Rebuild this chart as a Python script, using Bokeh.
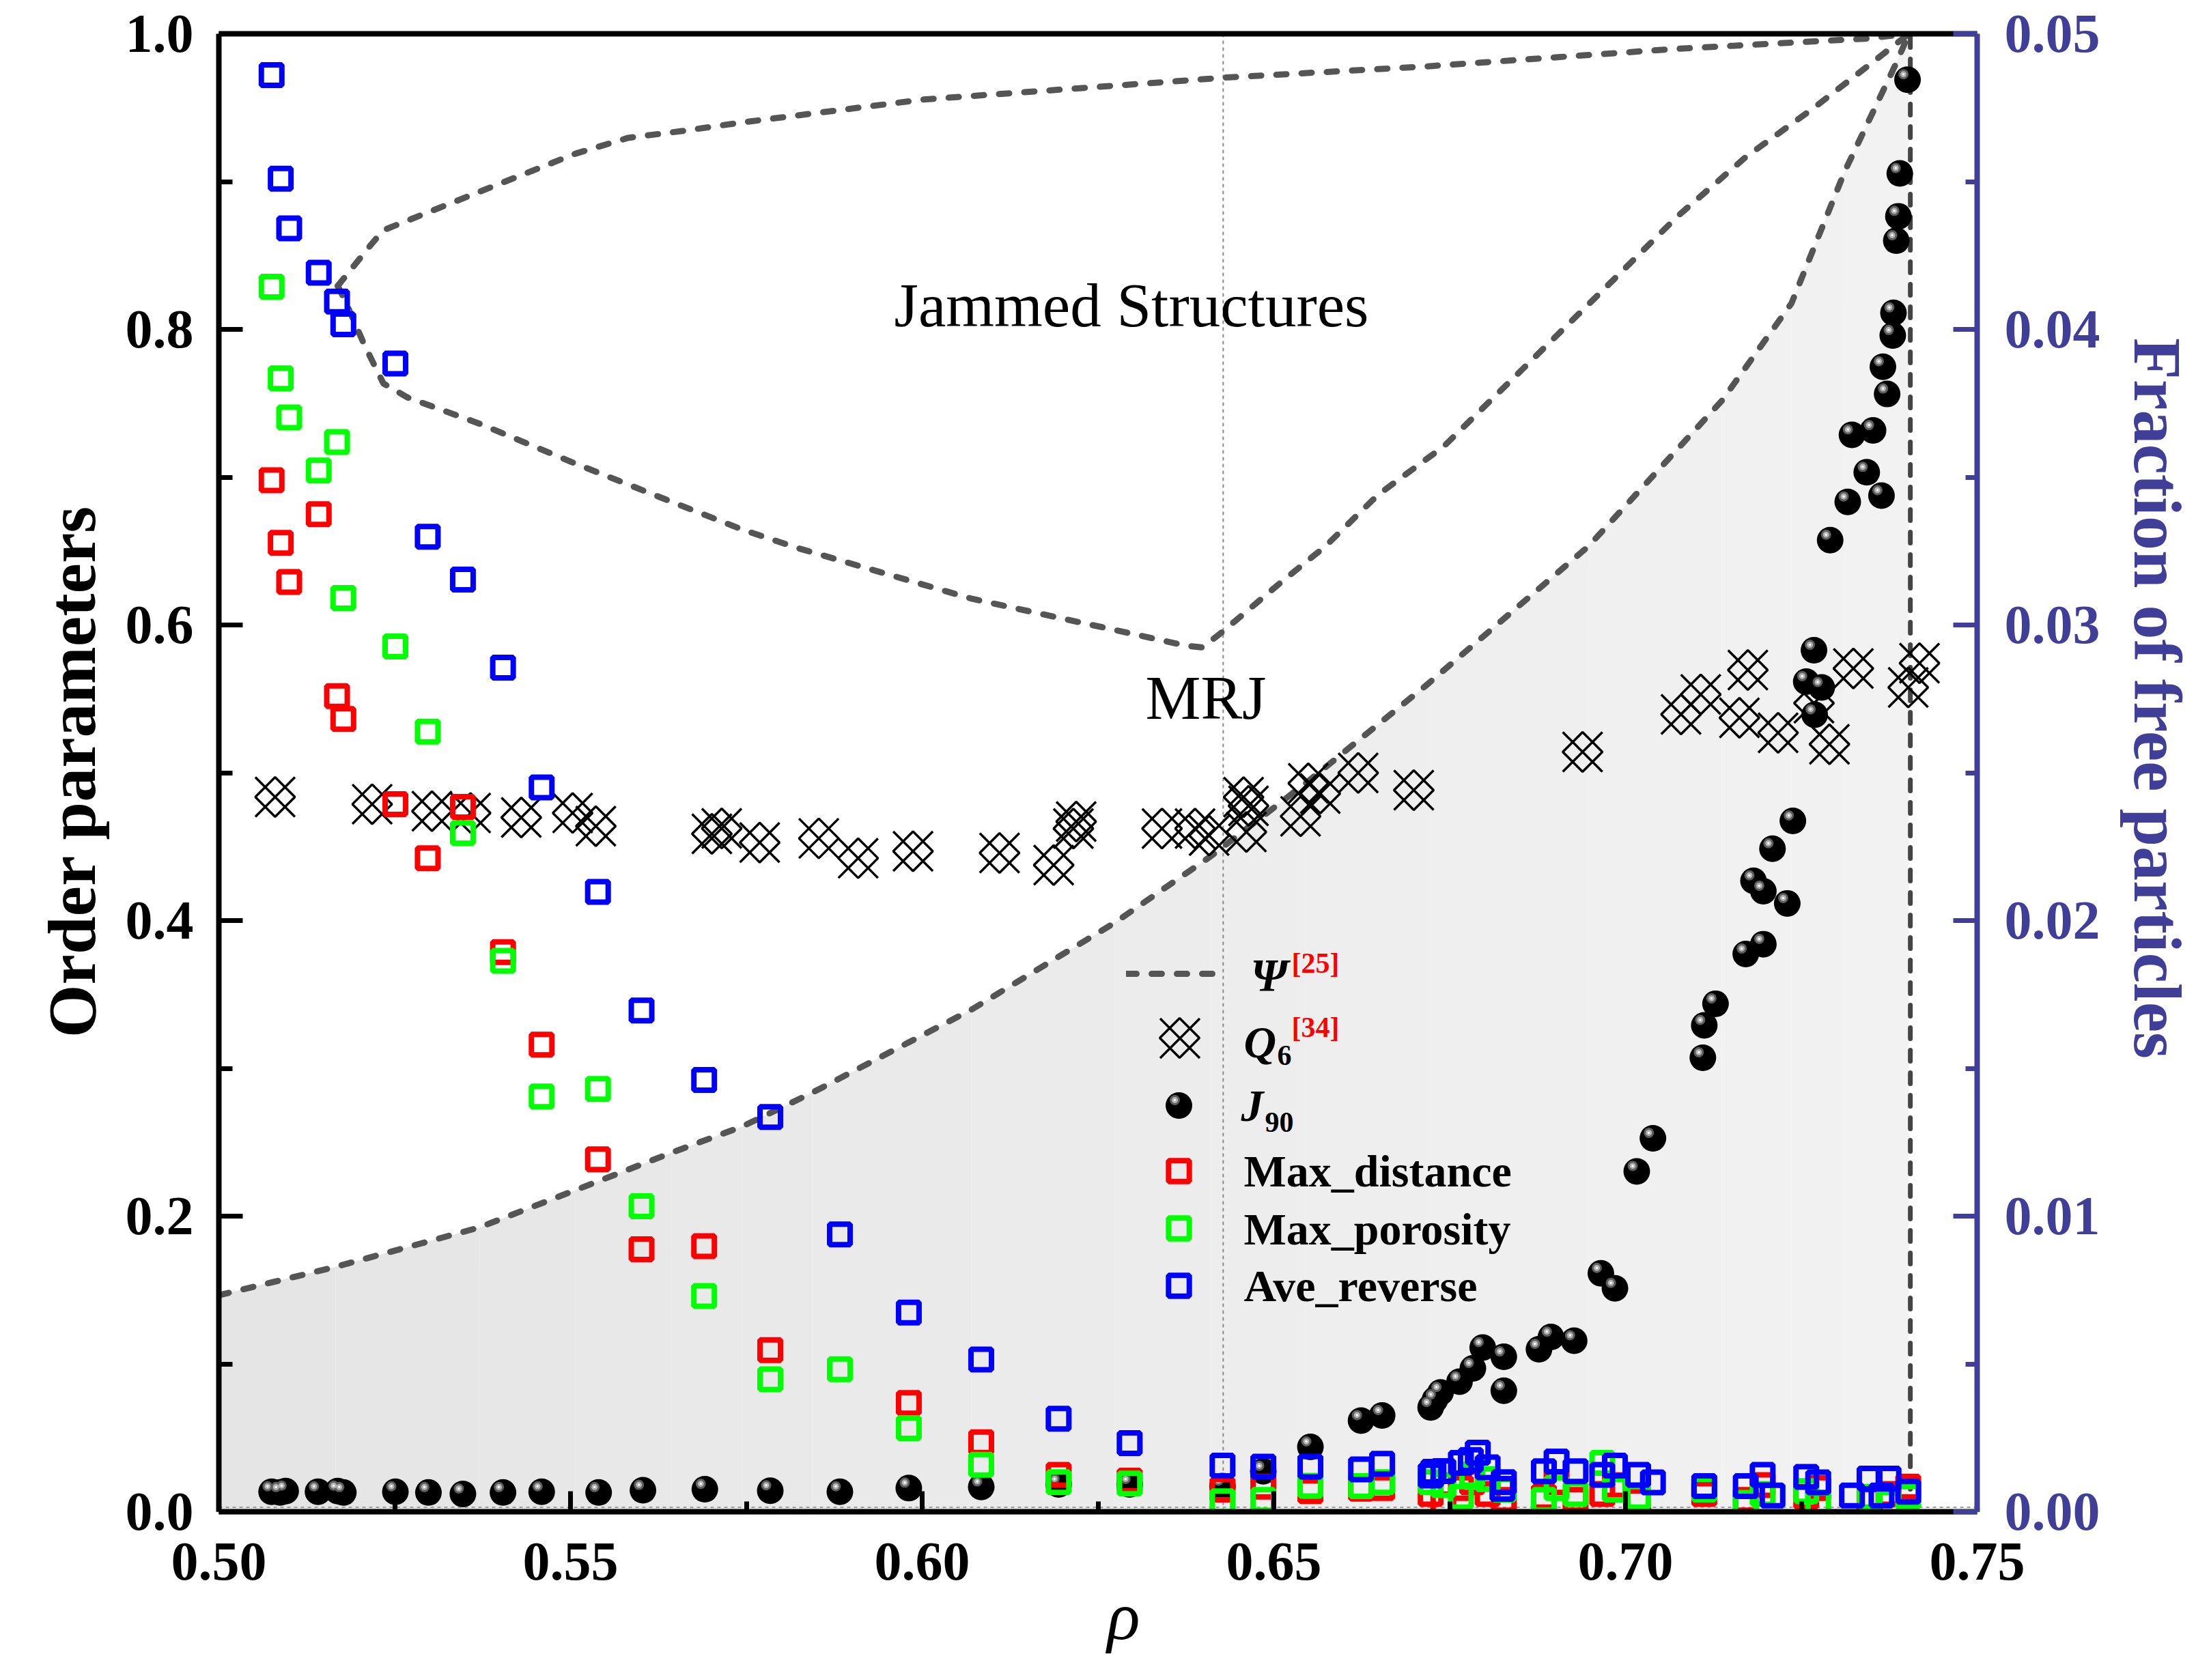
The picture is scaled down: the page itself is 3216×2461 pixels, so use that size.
import math
from bokeh.plotting import figure
from bokeh.layouts import row
from bokeh.models import (Range1d, LinearAxis, Label, Legend, LegendItem, Div,
                          FixedTicker, PrintfTickFormatter, ColumnDataSource)
from bokeh.transform import dodge
from bokeh.embed import file_html
from bokeh.resources import INLINE

# ------------------------------------------------------------------ data
# Psi boundary curves
up_rho = [0.5169, 0.5217, 0.5234, 0.5370, 0.5507, 0.5582, 0.5660, 0.5745, 0.6001,
          0.6341, 0.6428, 0.6716, 0.7069, 0.7341, 0.7403]
up_psi = [0.8294, 0.8577, 0.8671, 0.8930, 0.9189, 0.9296, 0.9343, 0.9401, 0.9555,
          0.9672, 0.9703, 0.9779, 0.9897, 0.9967, 1.0]

mid_rho = [0.5169, 0.5179, 0.5207, 0.5234, 0.5268, 0.5370, 0.5507, 0.5644, 0.5745,
           0.5824, 0.6070, 0.6274, 0.6375, 0.6399, 0.6430, 0.6512, 0.6573, 0.6648,
           0.6742, 0.6853, 0.6964, 0.7074, 0.7171, 0.7267, 0.7350, 0.7403]
mid_psi = [0.8294, 0.8200, 0.7894, 0.7634, 0.7540, 0.7363, 0.7092, 0.6833, 0.6644,
           0.6519, 0.6178, 0.5966, 0.5860, 0.5848, 0.5966, 0.6296, 0.6531, 0.6880,
           0.7210, 0.7728, 0.8247, 0.8765, 0.9166, 0.9496, 0.9802, 1.0]

lo_rho = [0.5000, 0.5166, 0.5370, 0.5507, 0.5644, 0.5745, 0.5844, 0.6070, 0.6274,
          0.6410, 0.6545, 0.6716, 0.6947, 0.7137, 0.7236, 0.7312, 0.7385, 0.7403]
lo_psi = [0.1465, 0.1657, 0.1923, 0.2176, 0.2430, 0.2608, 0.2836, 0.3397, 0.3986,
          0.4434, 0.4928, 0.5589, 0.6531, 0.7517, 0.8176, 0.9072, 0.9802, 1.0]

RHO_MRJ = 0.6428      # dotted reference line
RHO_CP = 0.7405       # close packing (dashed vertical)
BASE_LEVEL = 0.003    # dotted baseline

# Q6
q_rho = [0.5080, 0.5218, 0.5303, 0.5358, 0.5430, 0.5503, 0.5536, 0.5701, 0.5715,
         0.5769, 0.5853, 0.5909, 0.5987, 0.6110, 0.6187, 0.6219, 0.6215, 0.6341,
         0.6388, 0.6408, 0.6457, 0.6464, 0.6461, 0.6549, 0.6538, 0.6566, 0.6620,
         0.6699, 0.6939, 0.7079, 0.7107, 0.7174, 0.7162, 0.7217, 0.7324, 0.7268,
         0.7290, 0.7418, 0.7402]
q6 = [0.4836, 0.4787, 0.4740, 0.4728, 0.4697, 0.4728, 0.4639, 0.4587, 0.4624,
      0.4528, 0.4556, 0.4422, 0.4469, 0.4457, 0.4375, 0.4670, 0.4622, 0.4622,
      0.4622, 0.4575, 0.4835, 0.4776, 0.4599, 0.4928, 0.4705, 0.4859, 0.4999,
      0.4882, 0.5141, 0.5395, 0.5530, 0.5695, 0.5372, 0.5270, 0.5706, 0.5471,
      0.5193, 0.5741, 0.5577]

# J90
j_rho = [0.5075, 0.5087, 0.5095, 0.5141, 0.5169, 0.5177, 0.5251, 0.5298, 0.5347,
         0.5404, 0.5459, 0.5540, 0.5603, 0.5691, 0.5784, 0.5883, 0.5981, 0.6084,
         0.6194, 0.6295, 0.6427, 0.6485, 0.6552, 0.6624, 0.6654, 0.6723, 0.6729,
         0.6737, 0.6764, 0.6783, 0.6797, 0.6827, 0.6827, 0.6877, 0.6894, 0.6927,
         0.6965, 0.6985, 0.7016, 0.7039, 0.7110, 0.7112, 0.7128, 0.7171, 0.7196,
         0.7182, 0.7196, 0.7209, 0.7230, 0.7238, 0.7268, 0.7257, 0.7279, 0.7269,
         0.7291, 0.7316, 0.7322, 0.7343, 0.7352, 0.7364, 0.7366, 0.7372, 0.7380,
         0.7381, 0.7385, 0.7388, 0.7390, 0.7401]
j90 = [0.0135, 0.0130, 0.0140, 0.0135, 0.0140, 0.0130, 0.0135, 0.0130, 0.0120,
       0.0130, 0.0135, 0.0130, 0.0145, 0.0152, 0.0142, 0.0135, 0.0160, 0.0168,
       0.0185, 0.0185, 0.0173, 0.0274, 0.0439, 0.0617, 0.0651, 0.0706, 0.0757,
       0.0807, 0.0880, 0.0970, 0.1111, 0.1048, 0.0819, 0.1099, 0.1182, 0.1157,
       0.1613, 0.1512, 0.2303, 0.2527, 0.3072, 0.3291, 0.3437, 0.3774, 0.3840,
       0.4269, 0.4199, 0.4486, 0.4116, 0.4674, 0.5829, 0.5617, 0.5577, 0.5393,
       0.6574, 0.6833, 0.7286, 0.7033, 0.7316, 0.6875, 0.7747, 0.7563, 0.7959,
       0.8112, 0.8600, 0.8765, 0.9055, 0.9689]

# Max_distance
red_rho = [0.5075, 0.5088, 0.5100, 0.5142, 0.5168, 0.5177, 0.5251, 0.5297, 0.5347,
           0.5404, 0.5459, 0.5539, 0.5601, 0.5690, 0.5784, 0.5981, 0.6084, 0.6194,
           0.6295, 0.6427, 0.6485, 0.6552, 0.6624, 0.6654, 0.6723, 0.6741, 0.6766,
           0.6782, 0.6804, 0.6827, 0.6884, 0.6902, 0.6929, 0.6967, 0.6985, 0.7018,
           0.7112, 0.7171, 0.7195, 0.7257, 0.7274, 0.7347, 0.7374, 0.7402]
max_distance = [0.6979, 0.6555, 0.6291, 0.6750, 0.5518, 0.5364, 0.4787, 0.4422, 0.4769,
                0.3786, 0.3161, 0.2385, 0.1776, 0.1797, 0.1093, 0.0736, 0.0470, 0.0250,
                0.0210, 0.0150, 0.0170, 0.0140, 0.0156, 0.0160, 0.0120, 0.0050, 0.0160,
                0.0200, 0.0120, 0.0080, 0.0100, 0.0200, 0.0080, 0.0120, 0.0180, 0.0070,
                0.0120, 0.0080, 0.0180, 0.0100, 0.0160, 0.0080, 0.0120, 0.0170]

# Max_porosity
green_rho = [0.5075, 0.5088, 0.5100, 0.5142, 0.5168, 0.5177, 0.5251, 0.5297, 0.5347,
             0.5404, 0.5459, 0.5539, 0.5601, 0.5690, 0.5784, 0.5883, 0.5981, 0.6084,
             0.6194, 0.6295, 0.6427, 0.6485, 0.6552, 0.6624, 0.6654, 0.6723, 0.6741,
             0.6766, 0.6782, 0.6804, 0.6827, 0.6884, 0.6902, 0.6929, 0.6967, 0.6985,
             0.7018, 0.7112, 0.7171, 0.7195, 0.7257, 0.7274, 0.7347, 0.7374, 0.7402]
max_porosity = [0.8289, 0.7669, 0.7404, 0.7045, 0.7238, 0.6182, 0.5855, 0.5278, 0.4592,
                0.3727, 0.2810, 0.2860, 0.2067, 0.1460, 0.0896, 0.0964, 0.0566, 0.0317,
                0.0200, 0.0190, 0.0070, 0.0080, 0.0175, 0.0173, 0.0200, 0.0200, 0.0180,
                0.0100, 0.0250, 0.0220, 0.0150, 0.0080, 0.0160, 0.0120, 0.0330, 0.0150,
                0.0100, 0.0150, 0.0060, 0.0120, 0.0140, 0.0060, 0.0100, 0.0060, 0.0100]

# Ave_reverse
blue_rho = [0.5075, 0.5088, 0.5100, 0.5142, 0.5168, 0.5177, 0.5251, 0.5297, 0.5347,
            0.5404, 0.5459, 0.5539, 0.5601, 0.5690, 0.5784, 0.5883, 0.5981, 0.6084,
            0.6194, 0.6295, 0.6427, 0.6485, 0.6552, 0.6624, 0.6654, 0.6723, 0.6727,
            0.6741, 0.6766, 0.6780, 0.6790, 0.6804, 0.6825, 0.6827, 0.6884, 0.6902,
            0.6929, 0.6967, 0.6985, 0.7018, 0.7039, 0.7112, 0.7171, 0.7195, 0.7209,
            0.7257, 0.7274, 0.7322, 0.7347, 0.7364, 0.7374, 0.7402]
ave_reverse = [0.9720, 0.9020, 0.8684, 0.8383, 0.8188, 0.8035, 0.7769, 0.6597, 0.6307,
               0.5711, 0.4901, 0.4194, 0.3392, 0.2921, 0.2671, 0.1877, 0.1347, 0.1030,
               0.0629, 0.0464, 0.0312, 0.0305, 0.0305, 0.0286, 0.0325, 0.0245, 0.0270,
               0.0275, 0.0330, 0.0350, 0.0400, 0.0300, 0.0155, 0.0200, 0.0274, 0.0340,
               0.0274, 0.0250, 0.0312, 0.0250, 0.0199, 0.0173, 0.0173, 0.0249, 0.0110,
               0.0236, 0.0199, 0.0110, 0.0224, 0.0110, 0.0224, 0.0135]

x_ticks = [0.50, 0.55, 0.60, 0.65, 0.70, 0.75]
x_minor = [0.525, 0.575, 0.625, 0.675, 0.725]
y_ticks = [0.0, 0.2, 0.4, 0.6, 0.8, 1.0]
y_minor = [0.1, 0.3, 0.5, 0.7, 0.9]
r_ticks = [0.00, 0.01, 0.02, 0.03, 0.04, 0.05]
r_minor = [0.005, 0.015, 0.025, 0.035, 0.045]

# ------------------------------------------------------------------ layout geometry (page pixels)
PX_L, PX_R, PX_T, PX_B = 320, 2895, 49, 2214   # plot frame edges
TOTAL_W, TOTAL_H = 3200, 2445
LEFT_W, RIGHT_W = 170, 118                     # side strips holding the vertical titles

def sx(px):
    return px - PX_L
def sy(py):
    return PX_B - py
def dx(px):
    return 0.5 + (px - PX_L) / (PX_R - PX_L) * 0.25
def dy(py):
    return (PX_B - py) / (PX_B - PX_T)

NAVY = "#3f3f9a"
DASH_C = "#555555"
FONT = "Liberation Serif"

p = figure(frame_width=PX_R - PX_L, frame_height=PX_B - PX_T,
           min_border_left=PX_L - LEFT_W, min_border_right=(TOTAL_W - RIGHT_W) - PX_R,
           min_border_top=PX_T, min_border_bottom=TOTAL_H - PX_B,
           x_range=Range1d(0.5, 0.75), y_range=Range1d(0.0, 1.0),
           output_backend="svg", toolbar_location=None)
p.extra_y_ranges = {"frac": Range1d(0.0, 0.05)}
p.grid.visible = False
p.outline_line_color = None
p.background_fill_color = "white"

def style_axis(ax, color, tick_in, minor_in, standoff):
    ax.axis_line_width = 8
    ax.axis_line_color = color
    ax.major_tick_line_width = 7
    ax.minor_tick_line_width = 7
    ax.major_tick_line_color = color
    ax.minor_tick_line_color = color
    ax.major_tick_in = tick_in
    ax.major_tick_out = 0
    ax.minor_tick_in = minor_in
    ax.minor_tick_out = 0
    ax.major_label_text_font = FONT
    ax.major_label_text_font_style = "bold"
    ax.major_label_text_font_size = "80px"
    ax.major_label_text_color = color
    ax.major_label_standoff = standoff

xa = p.xaxis[0]
xa.ticker = FixedTicker(ticks=x_ticks, minor_ticks=x_minor)
xa.formatter = PrintfTickFormatter(format="%.2f")
style_axis(xa, "black", 30, 15, 46)
xa.axis_label = "\u00a0\u00a0\u00a0\u03c1"
xa.axis_label_text_font = FONT
xa.axis_label_text_font_style = "italic"
xa.axis_label_text_font_size = "100px"
xa.axis_label_text_color = "black"
xa.axis_label_standoff = -5

ya = p.yaxis[0]
ya.ticker = FixedTicker(ticks=y_ticks, minor_ticks=y_minor)
ya.formatter = PrintfTickFormatter(format="%.1f")
style_axis(ya, "black", 35, 20, 37)

ra = LinearAxis(y_range_name="frac")
ra.ticker = FixedTicker(ticks=r_ticks, minor_ticks=r_minor)
ra.formatter = PrintfTickFormatter(format="%.2f")
style_axis(ra, NAVY, 35, 17, 40)
p.add_layout(ra, "right")

ta = LinearAxis(ticker=FixedTicker(ticks=[]))
ta.axis_line_width = 8
ta.axis_line_color = "black"
ta.major_tick_in = 0
ta.major_tick_out = 0
ta.minor_tick_in = 0
ta.minor_tick_out = 0
ta.major_label_text_font_size = "0px"
p.add_layout(ta, "above")

# ------------------------------------------------------------------ shading under the lower curve (gradient)
n_seg = len(lo_rho) - 1
for i in range(n_seg):
    t = ((lo_rho[i] + lo_rho[i + 1]) / 2 - 0.5) / (RHO_CP - 0.5)
    g = int(round(229 + 13 * t))
    p.varea(x=lo_rho[i:i + 2], y1=[0.0, 0.0], y2=lo_psi[i:i + 2],
            fill_color=(g, g, g), fill_alpha=1.0)

# reference lines
p.line([RHO_MRJ, RHO_MRJ], [0.0, 1.0], line_color="#8a8a8a", line_width=2, line_dash="5 5")
p.line([0.5, 0.75], [BASE_LEVEL, BASE_LEVEL], line_color="#9a9a9a", line_width=2, line_dash="5 5")

# Psi curves
dash_kw = dict(line_color=DASH_C, line_width=9, line_dash="15 22", line_cap="round")
psi_r = p.line(up_rho, up_psi, **dash_kw)
p.line(mid_rho, mid_psi, **dash_kw)
p.line(lo_rho, lo_psi, **dash_kw)
p.line([RHO_CP, RHO_CP], [0.0, 1.0], line_color="#444444", line_width=7,
       line_dash="16 17", line_cap="round")

# Q6 markers: X through corners + inscribed diamond
qsrc = ColumnDataSource(dict(rho=q_rho, q6=q6))
q_x = p.scatter("rho", "q6", source=qsrc, marker="x", size=82,
                line_color="black", line_width=3.5)
p.scatter("rho", "q6", source=qsrc, marker="square", size=41, angle=math.pi / 4,
          fill_color=None, line_color="black", line_width=3.5)

# J90 spheres
jsrc = ColumnDataSource(dict(rho=j_rho, j90=j90))
p.scatter("rho", "j90", source=jsrc, marker="circle", size=39,
          fill_color="black", line_color=None)
hx = dodge("rho", -0.00058, range=p.x_range)
hy = dodge("j90", 0.0037, range=p.y_range)
p.scatter(x=hx, y=hy, source=jsrc, marker="circle", size=15,
          fill_color="#5e5e5e", line_color=None)
p.scatter(x=hx, y=hy, source=jsrc, marker="circle", size=9,
          fill_color="#b2b2b2", line_color=None)
p.scatter(x=hx, y=hy, source=jsrc, marker="circle", size=3.5,
          fill_color="white", line_color=None)

# squares
sq_kw = dict(marker="square", size=30, fill_color=None, line_width=8)
r_red = p.scatter(red_rho, max_distance, line_color="#ff0000", **sq_kw)
r_green = p.scatter(green_rho, max_porosity, line_color="#00ff00", **sq_kw)
r_blue = p.scatter(blue_rho, ave_reverse, line_color="#0000ff", **sq_kw)

# ------------------------------------------------------------------ legend
def sample(renderers, cx, cy, w, h):
    lg = Legend(items=[LegendItem(label=" ", renderers=renderers)],
                location=(sx(cx) - w / 2, sy(cy) - h / 2),
                glyph_width=w, glyph_height=h, padding=0, margin=0,
                label_height=1, label_width=1, label_standoff=0,
                label_text_font_size="2px", border_line_color=None,
                background_fill_alpha=0.0)
    p.add_layout(lg)

sample([psi_r], 1717, 1426, 137, 20)
sample([q_x], 1727, 1520, 205, 205)
sample([r_red], 1726, 1715, 76, 76)
sample([r_green], 1726, 1799, 76, 76)
sample([r_blue], 1726, 1883, 76, 76)

# legend keys that need rotation / offset highlights (placed at legend layout position)
p.scatter([dx(1727)], [dy(1520)], marker="square", size=41, angle=math.pi / 4,
          fill_color=None, line_color="black", line_width=3.5)
p.scatter([dx(1726)], [dy(1619)], marker="circle", size=39, fill_color="black", line_color=None)
p.scatter([dx(1720)], [dy(1611)], marker="circle", size=15, fill_color="#5e5e5e", line_color=None)
p.scatter([dx(1720)], [dy(1611)], marker="circle", size=9, fill_color="#b2b2b2", line_color=None)
p.scatter([dx(1720)], [dy(1611)], marker="circle", size=3.5, fill_color="white", line_color=None)

def txt(s, px, base_py, size_px, style="bold", color="black", align="left"):
    # base_py is the text baseline; anchor at the middle of the em box
    mid = base_py - 0.3375 * size_px
    p.add_layout(Label(x=sx(px), y=sy(mid), x_units="screen", y_units="screen",
                       text=s, text_font=FONT, text_font_style=style,
                       text_font_size=f"{size_px}px", text_color=color,
                       text_align=align, text_baseline="middle"))

txt("\u03a8", 1831, 1450, 68, "bold italic")
txt("[25]", 1891, 1425, 42, "bold", "#ff0000")
txt("Q", 1821, 1548, 66, "bold italic")
txt("6", 1870, 1560, 42, "bold")
txt("[34]", 1891, 1519, 42, "bold", "#ff0000")
txt("J", 1817, 1641, 66, "bold italic")
txt("90", 1852, 1658, 42, "bold")
txt("Max_distance", 1821, 1737, 66)
txt("Max_porosity", 1821, 1822, 66)
txt("Ave_reverse", 1821, 1905, 66)

txt("Jammed Structures", 1309, 478, 91, "normal")
txt("MRJ", 1677, 1053, 91, "normal")

# ------------------------------------------------------------------ side strips with vertical titles (HTML)
def strip(width, text, cx_local, cy_page, deg, color):
    html = (f'<div style="position:relative;width:{width}px;height:{TOTAL_H}px;">'
            f'<div style="position:absolute;left:{cx_local}px;top:{cy_page}px;'
            f'transform:translate(-50%,-50%) rotate({deg}deg);white-space:nowrap;'
            f"font-family:'{FONT}';font-weight:bold;font-size:100px;line-height:1.107;"
            f'color:{color};">{text}</div></div>')
    return Div(text=html, width=width, height=TOTAL_H, margin=(0, 0, 0, 0))

left_strip = strip(LEFT_W, "Order parameters", 106, 1131, -90, "black")
right_strip = strip(RIGHT_W, "Fraction of free particles",
                    3159 - (TOTAL_W - RIGHT_W), 1023, 90, NAVY)

layout = row(left_strip, p, right_strip)
open("out.html", "w").write(file_html(layout, INLINE))
